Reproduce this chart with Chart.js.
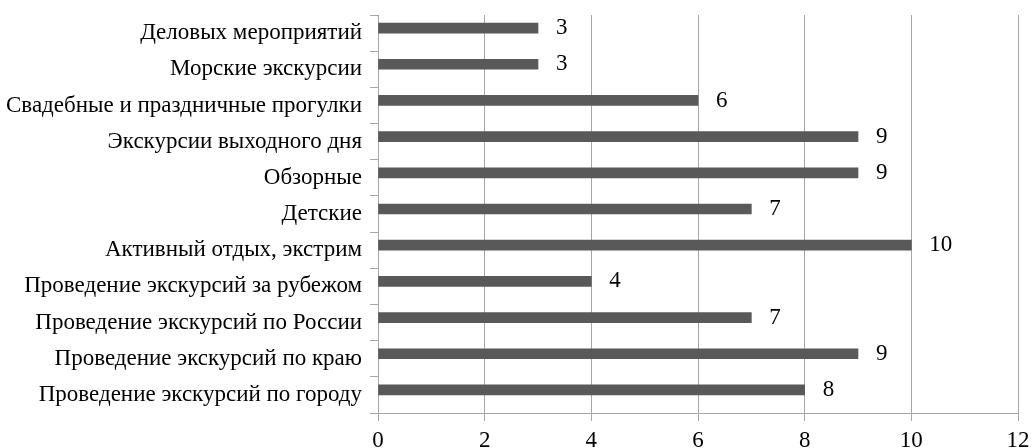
<!DOCTYPE html>
<html>
<head>
<meta charset="utf-8">
<script src="https://cdn.jsdelivr.net/npm/chart.js@4"></script>
<style>
  body { margin: 0; background: #fff; }
</style>
</head>
<body>
<canvas id="chart" width="1032" height="448"></canvas>
<script>
// Categories, top to bottom
const categories = [
    'Деловых мероприятий',
    'Морские экскурсии',
    'Свадебные и праздничные прогулки',
    'Экскурсии выходного дня',
    'Обзорные',
    'Детские',
    'Активный отдых, экстрим',
    'Проведение экскурсий за рубежом',
    'Проведение экскурсий по России',
    'Проведение экскурсий по краю',
    'Проведение экскурсий по городу'
];
const counts = [3, 3, 6, 9, 9, 7, 10, 4, 7, 9, 8];
// second series is empty in the source, it only shifts the bars up
const emptySeries = [null, null, null, null, null, null, null, null, null, null, null];
const xMax = 12;
const xStep = 2;

const FONT = "'Liberation Serif', 'Times New Roman', serif";
const FONT_SIZE = 23;
const GRID = '#a6a6a6';

// Value labels to the right of each bar
const valueLabels = {
    id: 'valueLabels',
    afterDatasetsDraw(chart) {
        const ctx = chart.ctx;
        const meta = chart.getDatasetMeta(0);
        ctx.save();
        ctx.font = FONT_SIZE + 'px ' + FONT;
        ctx.fillStyle = '#000';
        ctx.textAlign = 'left';
        ctx.textBaseline = 'middle';
        meta.data.forEach((bar, i) => {
            ctx.fillText(String(counts[i]), bar.x + 18, bar.y);
        });
        ctx.restore();
    }
};

new Chart(document.getElementById('chart'), {
    type: 'bar',
    data: {
        labels: categories,
        datasets: [{
            data: counts,
            backgroundColor: '#595959',
            barThickness: 10
        }, {
            data: emptySeries,
            backgroundColor: '#a6a6a6',
            barThickness: 10
        }]
    },
    options: {
        indexAxis: 'y',
        responsive: false,
        animation: false,
        layout: { padding: { top: 15, right: 14, left: 0, bottom: 0 } },
        plugins: {
            legend: { display: false },
            tooltip: { enabled: false }
        },
        scales: {
            x: {
                min: 0,
                max: xMax,
                ticks: {
                    stepSize: xStep,
                    color: '#000',
                    font: { family: FONT, size: FONT_SIZE },
                    padding: 6
                },
                grid: { color: GRID, tickLength: 8, lineWidth: 1 },
                border: { color: GRID },
                afterFit(scale) {
                    scale.height = 35;
                    scale.paddingLeft = 0;
                    scale.paddingRight = 0;
                }
            },
            y: {
                ticks: {
                    color: '#000',
                    font: { family: FONT, size: FONT_SIZE },
                    padding: 8
                },
                grid: { color: GRID, drawOnChartArea: false, tickLength: 8, offset: true },
                border: { color: GRID },
                afterFit(scale) {
                    scale.width = 378;
                    scale.paddingTop = 0;
                    scale.paddingBottom = 0;
                }
            }
        }
    },
    plugins: [valueLabels]
});
</script>
</body>
</html>
